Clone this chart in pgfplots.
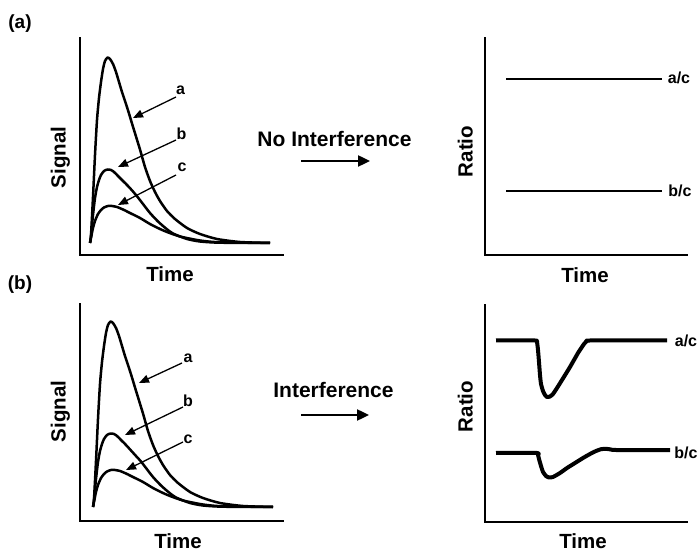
\documentclass[border=0pt]{standalone}
\usepackage{pgfplots}
\pgfplotsset{compat=1.18}
\usepackage{pgfplotstable}
\usepackage{fontspec}
\setmainfont{Liberation Sans}
\usetikzlibrary{arrows.meta}

% Signal curves, top panel (a)
\pgfplotstableread{
x y
90 309
91 317
93 355
95 397
97 432
99 454
101 470
103 483
105 491
107.5 494.5
110 493
113 488
116 480
119 470
122 460
126 448
129 438.5
132 428.5
136 415.5
140 402.5
145 385
150 371
155 360
160 351
167 341
175 333
187 324
200 318
217 313
240 310
270 309
}\topA
\pgfplotstableread{
x y
90 309
91 316
93 337
95 354
97 365
99 372
101 377
104 381
107.5 382.5
111 382
114 380
118 376
123 371
128 366
133 360.5
138 354.5
143 348
150 339
158 330.5
166 323.5
173 318.5
187 313
200 310.5
220 309.3
270 309
}\topB
\pgfplotstableread{
x y
90 309
91 314
93 324
95 331
98 338
101 342
104 344.5
108 346
112 346
117 345
123 342.5
130 339
140 334
150 328
160 323
167 320
180 315.5
200 311.5
220 309.7
270 309
}\topC
% Signal curves, bottom panel (b)
\pgfplotstableread{
x y
93 45
94 53
96 91
98 133
100 168
102 190
104 206
106 219
108 227
110.5 230.5
113 229
116 224
119 216
122 206
125 196
129 184
132 174.5
135 164.5
139 151.5
143 138.5
148 121
153 107
158 96
163 87
170 77
178 69
190 60
203 54
220 49
243 46
273 45
}\botA
\pgfplotstableread{
x y
93 45
94 52
96 73
98 90
100 101
102 108
104 113
107 117
110.5 118.5
114 118
117 116
121 112
126 107
131 101.5
136 96
141 90.5
146 84
153 75
161 66.5
169 59.5
176 54.5
190 49
203 46.5
223 45.3
273 45
}\botB
\pgfplotstableread{
x y
93 45
94 50
96 60
98 67
101 74
104 78
107 80.5
111 82
115 82
120 81
126 78.5
133 75
143 70
153 64
163 59
170 56
183 51.5
203 47.5
223 45.7
273 45
}\botC
% Ratio traces
\pgfplotstableread{
x y
506 473
662 473
}\ratioAtop
\pgfplotstableread{
x y
506 361
662 361
}\ratioBtop
\pgfplotstableread{
x y
496 211.5
535 211.5
537 210
538 202
539 190
540 177
541 168
543 161
545 157
547 155
550 155.5
553 158
557 164
562 172
570 185
578 199
584 208
587 211
590 211.5
667 211.5
}\ratioAbot
\pgfplotstableread{
x y
496 99
537 99
538 97
539 93
541 86
543 80
546 76
549 74.5
553 75
560 79
567 84
575 89
583 94
590 98
596 101
601 102.8
606 103.2
611 102.5
616 102
670 102
}\ratioBbot

\pgfplotsset{
  panel/.style={scale only axis, axis lines=left,
    axis line style={-, line width=2.7pt, line cap=rect},
    xtick=\empty, ytick=\empty, clip=false, anchor=south west},
  sig/.style={black, line width=2.5pt, line join=round, smooth, tension=0.4},
}
\newcommand{\fbig}{\bfseries\fontsize{20.5}{24}\selectfont}
\newcommand{\fmid}{\bfseries\fontsize{21}{25}\selectfont}
\newcommand{\fsml}{\bfseries\fontsize{16}{19}\selectfont}

\begin{document}
\begin{tikzpicture}[x=1pt,y=1pt]
\useasboundingbox (0,0) rectangle (699,552);

% (a) left
\begin{axis}[panel, at={(80pt,297pt)}, width=203pt, height=217pt,
  xmin=80, xmax=283, ymin=297, ymax=514]
\addplot[sig] table {\topA};
\addplot[sig] table {\topB};
\addplot[sig] table {\topC};
\end{axis}

% (a) right
\begin{axis}[panel, at={(485pt,297pt)}, width=202pt, height=217pt,
  xmin=485, xmax=687, ymin=297, ymax=514]
\addplot[black, line width=2.7pt] table {\ratioAtop};
\addplot[black, line width=2.7pt] table {\ratioBtop};
\end{axis}

% (b) left
\begin{axis}[panel, at={(80pt,31pt)}, width=203pt, height=217pt,
  xmin=80, xmax=283, ymin=31, ymax=248]
\addplot[sig] table {\botA};
\addplot[sig] table {\botB};
\addplot[sig] table {\botC};
\end{axis}

% (b) right
\begin{axis}[panel, at={(485pt,30pt)}, width=202pt, height=217pt,
  xmin=485, xmax=687, ymin=30, ymax=247]
\addplot[black, line width=4pt, line join=round, smooth, tension=0.3] table {\ratioAbot};
\addplot[black, line width=4pt, line join=round, smooth, tension=0.3] table {\ratioBbot};
\end{axis}

% panel letters
\node[anchor=base] at (20,523) {\fontsize{19}{22}\bfseries\selectfont (a)};
\node[anchor=base] at (20,262) {\fontsize{19}{22}\bfseries\selectfont (b)};

% axis labels
\node[anchor=base, rotate=90] at (65.5,394.5) {\fbig Signal};
\node[anchor=base, rotate=90] at (65.5,140.5) {\fbig Signal};
\node[anchor=base, rotate=90] at (472.5,400.5) {\fbig Ratio};
\node[anchor=base, rotate=90] at (472.5,145.5) {\fbig Ratio};
\node[anchor=base] at (170,270) {\fbig Time};
\node[anchor=base] at (585,269) {\fbig Time};
\node[anchor=base] at (178,4) {\fbig Time};
\node[anchor=base] at (583,4) {\fbig Time};

% middle texts and arrows
\node[anchor=base] at (334.5,405) {\fmid No Interference};
\node[anchor=base] at (333.5,154) {\fmid Interference};
\draw[line width=2.4pt, -{Triangle[length=12pt,width=11pt]}] (301,391) -- (370,391);
\draw[line width=2.4pt, -{Triangle[length=12pt,width=11pt]}] (301,137) -- (369,137);

% curve annotations
\draw[line width=1.3pt, -{Triangle[length=10pt,width=8pt]}] (176,455) -- (133,434);
\draw[line width=1.3pt, -{Triangle[length=10pt,width=8pt]}] (176,412) -- (118,385);
\draw[line width=1.3pt, -{Triangle[length=10pt,width=8pt]}] (176,377) -- (118,347);
\draw[line width=1.3pt, -{Triangle[length=10pt,width=8pt]}] (182,189) -- (139,169);
\draw[line width=1.3pt, -{Triangle[length=10pt,width=8pt]}] (183,145) -- (125,117);
\draw[line width=1.3pt, -{Triangle[length=10pt,width=8pt]}] (183,110) -- (126,82);
\node[anchor=base] at (180.5,457) {\fsml a};
\node[anchor=base] at (181.5,412) {\fsml b};
\node[anchor=base] at (182,380) {\fsml c};
\node[anchor=base] at (188,189) {\fsml a};
\node[anchor=base] at (188,145) {\fsml b};
\node[anchor=base] at (188,109) {\fsml c};
\node[anchor=base] at (679,468) {\fsml a/c};
\node[anchor=base] at (680,355) {\fsml b/c};
\node[anchor=base] at (686,205) {\fsml a/c};
\node[anchor=base] at (686,94) {\fsml b/c};
\end{tikzpicture}
\end{document}
